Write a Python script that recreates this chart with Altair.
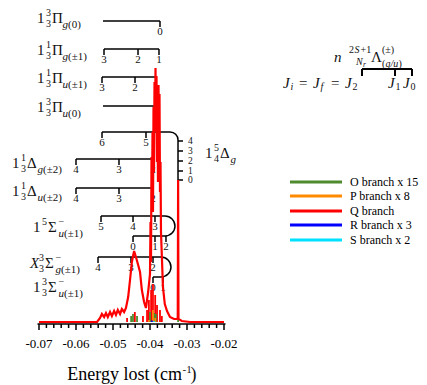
import math
import altair as alt
import pandas as pd

# ---------------- data ----------------
# Q branch (convolved envelope)
q_energy = [-0.07000, -0.06000, -0.05430, -0.05350, -0.05300, -0.05240, -0.05190, -0.05140,
            -0.05080, -0.05030, -0.04970, -0.04920, -0.04870, -0.04810, -0.04760, -0.04700,
            -0.04650, -0.04590, -0.04540, -0.04490, -0.04430, -0.04380, -0.04320, -0.04270,
            -0.04220, -0.04160, -0.04110, -0.04050, -0.04000, -0.03986, -0.03973, -0.03959,
            -0.03946, -0.03932, -0.03919, -0.03905, -0.03892, -0.03878, -0.03865, -0.03851,
            -0.03838, -0.03824, -0.03811, -0.03797, -0.03784, -0.03770, -0.03757, -0.03743,
            -0.03730, -0.03716, -0.03703, -0.03676, -0.03650, -0.03600, -0.03540, -0.03460,
            -0.03350, -0.03270, -0.03250, -0.03240, -0.03230, -0.03140, -0.02920, -0.02000]
q_intensity = [0, 0, 0, 4, 8, 5, 9, 5,
               10, 6, 11, 7, 12, 8, 13, 10,
               14, 25, 42, 60, 71, 65, 57, 50,
               32, 20, 14, 30, 48, 100, 60, 165,
               120, 190, 110, 215, 150, 240, 190, 254,
               200, 246, 160, 200, 140, 237, 180, 228,
               130, 160, 90, 62, 35, 18, 11, 5,
               3, 3, 4, 142, 3, 1, 0, 0]

# stick spectra
stick_branch = ["Q"] * 11 + ["O"] * 7 + ["P"] * 3 + ["R", "S"]
stick_energy = [-0.0462, -0.0441, -0.0419, -0.0408, -0.0403, -0.0397, -0.0392, -0.0386, -0.0381,
                -0.0373, -0.0368,
                -0.0451, -0.0446, -0.0435, -0.0400, -0.0389, -0.0384, -0.0324,
                -0.0403, -0.0392, -0.0386,
                -0.0395, -0.0389]
stick_intensity = [4, 10, 6, 12, 22, 32, 38, 27, 17, 12, 6,
                   6, 8, 6, 10, 9, 8, 2,
                   2, 12, 4,
                   1.5, 1]

branches = ["O", "P", "Q", "R", "S"]
branch_labels = ["O branch x 15", "P branch x 8", "Q branch", "R branch x 3", "S branch x 2"]
branch_colors = ["#4e8a2e", "#ff8a00", "#ff0000", "#0000ff", "#00e0ff"]

major_ticks = [-0.07, -0.06, -0.05, -0.04, -0.03, -0.02]
major_labels = ["-0.07", "-0.06", "-0.05", "-0.04", "-0.03", "-0.02"]
minor_ticks = [-0.068, -0.066, -0.064, -0.062, -0.058, -0.056, -0.054, -0.052,
               -0.048, -0.046, -0.044, -0.042, -0.038, -0.036, -0.034, -0.032,
               -0.028, -0.026, -0.024, -0.022]

# level brackets: (level, start, end, J tick energies, J labels)
brackets = [
    (301, -0.05270, -0.03730, [-0.03730], ["0"]),
    (273, -0.05243, -0.03757, [-0.05243, -0.04324, -0.03757], ["3", "2", "1"]),
    (245, -0.05297, -0.03838, [-0.05297, -0.04405, -0.03838], ["3", "2", "1"]),
    (216, -0.05270, -0.03838, [-0.03838], ["0"]),
    (190, -0.05297, -0.03459, [-0.05297, -0.04108], ["6", "5"]),
    (163, -0.06000, -0.03919, [-0.06000, -0.04838, -0.03919], ["4", "3", "2"]),
    (134, -0.06000, -0.03919, [-0.06000, -0.04838, -0.03919], ["4", "3", "2"]),
    (106, -0.05324, -0.03595, [-0.05324, -0.04459, -0.03865], ["5", "4", "3"]),
    (86, -0.04459, -0.03595, [-0.04459, -0.03865, -0.03568], ["0", "1", "2"]),
    (65, -0.05405, -0.03703, [-0.05405, -0.04514, -0.03919], ["4", "3", "2"]),
    (45, -0.03919, -0.03703, [-0.03919, -0.03649], ["0", "1"]),
]
# 1 5/4 Delta_g vertical ladder
dg_energy = -0.03243
dg_top, dg_bottom = 182, 142
dg_levels = [181, 171, 161, 151, 142]
dg_labels = ["4", "3", "2", "1", "0"]
corner = (-0.03459, 182)          # quarter-round corner
loops = [(-0.03595, 96), (-0.03703, 55)]  # half-round joins

# key bracket (top right)
key_level = 253
key_ticks = [0.01730, 0.02622, 0.03081]

# ---------------- layout ----------------
XMIN, XMAX = -0.07, -0.02
YMIN, YMAX = -2, 312
W, H = 185, 314
PXE = (XMAX - XMIN) / W
PXI = (YMAX - YMIN) / H

xs = alt.Scale(domain=[XMIN, XMAX], nice=False, zero=False)
ys = alt.Scale(domain=[YMIN, YMAX], nice=False, zero=False)


def X(f="E"):
    return alt.X(f"{f}:Q", scale=xs, axis=None)


def Y(f="I"):
    return alt.Y(f"{f}:Q", scale=ys, axis=None)


FONT = "'Liberation Serif', 'Times New Roman', Times, serif"
INK = "#111111"

# segments
segs = []
tick_labels = []
for level, s, e, ticks, labs in brackets:
    segs.append(dict(E=s, E2=e, I=level, I2=level))
    for t, lab in zip(ticks, labs):
        segs.append(dict(E=t, E2=t, I=level, I2=level - 6 * PXI))
        tick_labels.append(dict(t=lab, E=t, I=level - 11 * PXI, s=11))
segs.append(dict(E=dg_energy, E2=dg_energy, I=dg_top, I2=dg_bottom))
side_labels = []
for lv, lab in zip(dg_levels, dg_labels):
    segs.append(dict(E=dg_energy, E2=dg_energy + 5 * PXE, I=lv, I2=lv))
    side_labels.append(dict(t=lab, E=dg_energy + 10 * PXE, I=lv, s=9.5))

key_segs = [dict(E=key_ticks[0], E2=key_ticks[-1], I=key_level, I2=key_level)]
for t in key_ticks:
    key_segs.append(dict(E=t, E2=t, I=key_level, I2=key_level - 7 * PXI))

# axis pieces
axis_segs = [dict(E=XMIN - 1.5 * PXE, E2=XMAX + 1.5 * PXE, I=YMIN, I2=YMIN)]
for t in major_ticks:
    axis_segs.append(dict(E=t, E2=t, I=YMIN, I2=YMIN - 6 * PXI))
for t in minor_ticks:
    axis_segs.append(dict(E=t, E2=t, I=YMIN, I2=YMIN - 4 * PXI))
axis_labels = [dict(t=lab, E=t, I=YMIN - 20 * PXI, s=13) for t, lab in zip(major_ticks, major_labels)]

# text pieces
up_pieces, it_pieces = [], []


def put(E0, I0, parts):
    for text, dx, dy, size, italic in parts:
        row = dict(t=text, E=E0 + dx * PXE, I=I0 - dy * PXI, s=size)
        (it_pieces if italic else up_pieces).append(row)


def term(E0, I0, lead, lead_it, sup, sub, greek, gsup, gsub):
    parts = [(lead, 0, 0, 15, lead_it)]
    if sup:
        parts.append((sup, 9, -5, 10, False))
    if sub:
        parts.append((sub, 9, 6, 10, False))
    parts.append((greek, 15, 0, 15, False))
    if gsup:
        parts.append((gsup, 25.5, -5, 10, False))
    parts.append((gsub[0], 25.5, 7, 11, True))
    if len(gsub) > 1:
        parts.append((gsub[1:], 31, 7, 11, False))
    put(E0, I0, parts)


term(-0.07054, 304, "1", False, "3", "3", "Π", None, "g(0)")
term(-0.07054, 272, "1", False, "1", "3", "Π", None, "g(±1)")
term(-0.07054, 244, "1", False, "1", "3", "Π", None, "u(±1)")
term(-0.07054, 215, "1", False, "3", "3", "Π", None, "u(0)")
term(-0.07730, 159, "1", False, "1", "3", "Δ", None, "g(±2)")
term(-0.07730, 131, "1", False, "1", "3", "Δ", None, "u(±2)")
term(-0.07162, 95, "1", False, "5", None, "Σ", "−", "u(±1)")
term(-0.07243, 59, "X", True, "3", "3", "Σ", "−", "g(±1)")
term(-0.07162, 35, "1", False, "3", "3", "Σ", "−", "u(±1)")
term(-0.02514, 169, "1", False, "5", "4", "Δ", None, "g")

put(0.00973, 265, [
    ("n", 0, 0, 15, True),
    ("2", 15, -7, 10, False), ("S", 20.5, -7, 10, True), ("+1", 26.5, -7, 10, False),
    ("N", 22, 5, 10, True), ("r", 29, 8, 7.5, True),
    ("Λ", 37, 0, 15, False),
    ("(±)", 48, -7, 10, False),
    ("(", 48, 7, 10, False), ("g/u", 51.5, 7, 10, True), (")", 64.5, 7, 10, False),
])
put(-0.00405, 239, [
    ("J", 0, 0, 15, True), ("i", 7.5, 4, 10, True), ("=", 16, 0, 15, False),
    ("J", 30, 0, 15, True), ("f", 37.5, 4, 10, True), ("=", 48, 0, 15, False),
    ("J", 62, 0, 15, True), ("2", 69.5, 4, 10, False),
    ("J", 105, 0, 15, True), ("1", 112.5, 4, 10, False),
    ("J", 120, 0, 15, True), ("0", 127.5, 4, 10, False),
])
# axis title pieces
title_anchor = (-0.03135, -53)
put(title_anchor[0], title_anchor[1], [("-1", 0.5, -5, 11, False), (")", 8.5, 0, 18, False)])
title_main = [dict(t="Energy lost (cm", E=title_anchor[0], I=title_anchor[1], s=18)]

# legend rows
legend_rows = pd.DataFrame(dict(
    branch=branches, label=branch_labels,
    I=[140, 126, 111, 97, 82],
    E=[-0.00216] * 5, E2=[0.01189] * 5, Et=[0.01405] * 5,
))

color = alt.Color("branch:N", scale=alt.Scale(domain=branches, range=branch_colors), legend=None)

# ---------------- layers ----------------
seg_layer = alt.Chart(pd.DataFrame(segs)).mark_rule(color="black", strokeWidth=1.5).encode(
    x=X(), x2=alt.X2("E2:Q"), y=Y(), y2=alt.Y2("I2:Q"))
key_layer = alt.Chart(pd.DataFrame(key_segs)).mark_rule(color="black", strokeWidth=2).encode(
    x=X(), x2=alt.X2("E2:Q"), y=Y(), y2=alt.Y2("I2:Q"))
corner_layer = alt.Chart(pd.DataFrame([dict(E=corner[0], I=corner[1])])).mark_arc(
    filled=False, color="black", stroke="black", strokeWidth=1.5,
    radius=8, radius2=8, theta=0, theta2=math.pi / 2).encode(x=X(), y=Y())
loop_layer = alt.Chart(pd.DataFrame([dict(E=e, I=i) for e, i in loops])).mark_arc(
    filled=False, color="black", stroke="black", strokeWidth=1.5,
    radius=10, radius2=10, theta=0, theta2=math.pi).encode(x=X(), y=Y())
axis_layer = alt.Chart(pd.DataFrame(axis_segs)).mark_rule(color="black", strokeWidth=1.5).encode(
    x=X(), x2=alt.X2("E2:Q"), y=Y(), y2=alt.Y2("I2:Q"))


def text_layer(rows, align, italic=False, color=INK):
    kw = dict(font=FONT, align=align, baseline="middle", color=color)
    if italic:
        kw["fontStyle"] = "italic"
    return alt.Chart(pd.DataFrame(rows)).mark_text(**kw).encode(
        x=X(), y=Y(), text="t:N", size=alt.Size("s:Q", scale=None))


up_layer = text_layer(up_pieces, "left")
it_layer = text_layer(it_pieces, "left", italic=True)
tick_layer = text_layer(tick_labels, "center")
side_layer = text_layer(side_labels, "left")
title_layer = text_layer(title_main, "right", color="black")
axis_text = text_layer(axis_labels, "center", color="black")

q_df = pd.DataFrame(dict(E=q_energy, I=q_intensity))
q_layer = alt.Chart(q_df).mark_line(color="#ff0000", strokeWidth=2.2).encode(x=X(), y=Y())

stick_df = pd.DataFrame(dict(branch=stick_branch, E=stick_energy, I=stick_intensity,
                             I0=[0] * len(stick_energy)))
stick_layer = alt.Chart(stick_df).mark_rule(strokeWidth=1.8).encode(
    x=X(), y=Y("I0"), y2=alt.Y2("I:Q"), color=color)

leg_line = alt.Chart(legend_rows).mark_rule(strokeWidth=3).encode(
    x=X(), x2=alt.X2("E2:Q"), y=Y(), color=color)
leg_text = alt.Chart(legend_rows).mark_text(font=FONT, fontSize=12, align="left",
                                            baseline="middle", color="black").encode(
    x=X("Et"), y=Y(), text="label:N")

chart = alt.layer(
    seg_layer, key_layer, corner_layer, loop_layer,
    up_layer, it_layer, tick_layer, side_layer, title_layer,
    q_layer, stick_layer, axis_layer, axis_text, leg_line, leg_text,
).properties(
    width=W, height=H,
    padding={"left": 31, "top": 2, "right": 195, "bottom": 61},
    autosize=alt.AutoSizeParams(type="none"),
).configure_view(stroke=None)

chart.save("out.html", embed_options={"renderer": "svg", "actions": False})
